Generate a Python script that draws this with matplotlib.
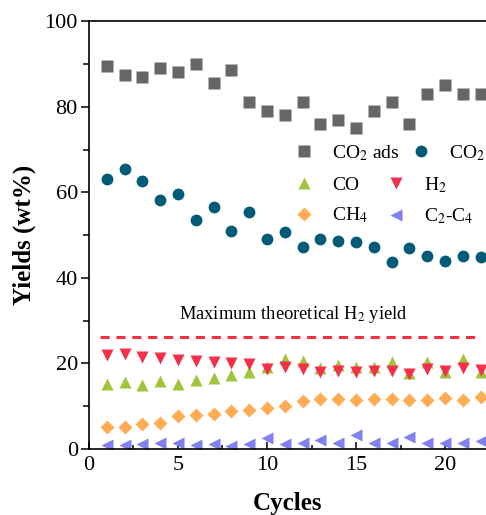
"""
Cycling yields of CO2 adsorption and products over 22 cycles.
"""

import matplotlib
matplotlib.use("Agg")
import matplotlib.pyplot as plt
from matplotlib.ticker import MultipleLocator

plt.rcParams["font.family"] = ["Liberation Serif", "DejaVu Serif"]
plt.rcParams["font.serif"] = ["Liberation Serif", "DejaVu Serif"]
plt.rcParams["mathtext.fontset"] = "stix"

# ── Data ───────────────────────────────────────────────────────────────────────

cycles = list(range(1, 23))

co2_ads = [89.5, 87.4, 87.0, 89.0, 88.0, 90.0, 85.5, 88.6, 81.0, 79.0, 78.0,
           81.0, 76.0, 77.0, 75.0, 79.0, 81.0, 76.0, 83.0, 85.0, 83.0, 83.0]
co2     = [63.0, 65.4, 62.7, 58.1, 59.7, 53.5, 56.5, 50.9, 55.3, 49.2, 50.7,
           47.2, 49.0, 48.7, 48.5, 47.2, 43.7, 47.0, 45.1, 43.9, 45.1, 44.9]
co      = [15.3, 15.6, 15.0, 16.0, 15.1, 16.1, 16.5, 17.4, 18.1, 19.2, 21.1,
           20.6, 18.9, 19.6, 19.2, 19.1, 20.4, 17.7, 20.4, 18.1, 21.0, 18.1]
h2      = [22.0, 22.2, 21.4, 21.2, 20.8, 20.6, 20.3, 20.0, 19.8, 18.7, 19.2,
           18.7, 17.9, 18.3, 17.9, 18.3, 18.3, 17.5, 18.7, 18.3, 18.9, 18.4]
ch4     = [5.2, 5.1, 5.8, 6.2, 7.7, 7.9, 8.3, 8.9, 9.1, 9.5, 10.1,
           11.2, 11.7, 11.6, 11.5, 11.7, 11.6, 11.5, 11.5, 12.0, 11.5, 12.2]
c2_c4   = [0.9, 0.9, 1.3, 1.5, 1.5, 0.9, 1.1, 0.7, 1.2, 2.5, 1.3,
           1.5, 2.1, 1.5, 3.3, 1.5, 1.4, 2.9, 1.5, 1.5, 1.4, 1.9]

h2_max       = 26.2          # maximum theoretical H2 yield
h2_max_range = [0.6, 21.8]   # extent of the dashed line (cycles)

# ── Figure ─────────────────────────────────────────────────────────────────────

fig = plt.figure(figsize=(4.86, 5.15), dpi=100)
ax = fig.add_axes([0.183, 0.128, 0.817, 0.831])

h_ads, = ax.plot(cycles, co2_ads, "s", color="#666666", ms=8, mec="none", label="CO$_2$ ads")
h_co2, = ax.plot(cycles, co2, "o", color="#005a78", ms=8.5, mec="none", label="CO$_2$")
h_co,  = ax.plot(cycles, co, "^", color="#a0c43c", ms=9, mec="none", label="CO")
h_h2,  = ax.plot(cycles, h2, "v", color="#f5304a", ms=9, mec="none", label="H$_2$")
h_ch4, = ax.plot(cycles, ch4, "D", color="#ffac55", ms=6.8, mec="none", label="CH$_4$")
h_c2,  = ax.plot(cycles, c2_c4, "<", color="#8080f0", ms=9, mec="none", label="C$_2$-C$_4$")

ax.plot(h2_max_range, [h2_max, h2_max], ls=(0, (3, 2.2)), color="#f5304a", lw=2.2)
ax.text(11.5, 31.5, "Maximum theoretical H$_2$ yield", ha="center", va="center", fontsize=13.3)

ax.set_xlim(0, 22.3)
ax.set_ylim(0, 100)
ax.xaxis.set_major_locator(MultipleLocator(5))
ax.xaxis.set_minor_locator(MultipleLocator(2.5))
ax.yaxis.set_major_locator(MultipleLocator(20))
ax.yaxis.set_minor_locator(MultipleLocator(10))
ax.tick_params(axis="x", which="major", direction="in", length=5, width=1.1, labelsize=16, pad=5)
ax.tick_params(axis="x", which="minor", direction="in", length=3, width=1.1)
ax.tick_params(axis="y", which="major", direction="out", length=6, width=1.1, labelsize=16, pad=2)
ax.tick_params(axis="y", which="minor", direction="out", length=4, width=1.1)
for lbl in ax.get_xticklabels() + ax.get_yticklabels():
    lbl.set_family("Liberation Serif")
for side in ("left", "bottom", "top"):
    ax.spines[side].set_linewidth(1.2)
ax.spines["right"].set_visible(False)

ax.set_xlabel("Cycles", fontsize=18, fontweight="bold", labelpad=12)
ax.set_ylabel("Yields (wt%)", fontsize=18, fontweight="bold", labelpad=6)

# Two legend blocks (first row is laid out wider than the rest)
leg_kw = dict(frameon=False, fontsize=14, handlelength=1.0, handletextpad=0.95,
              borderpad=0, borderaxespad=0, labelspacing=0.6,
              bbox_transform=fig.transFigure, loc="upper left")
leg1 = fig.legend(handles=[h_ads, h_co2], ncol=2, columnspacing=0.6,
                  bbox_to_anchor=(0.606, 0.722), **leg_kw)
leg2 = fig.legend(handles=[h_co, h_ch4, h_h2, h_c2], ncol=2, columnspacing=0.9,
                  bbox_to_anchor=(0.606, 0.660), **leg_kw)

fig.savefig("out.png", dpi=100)
